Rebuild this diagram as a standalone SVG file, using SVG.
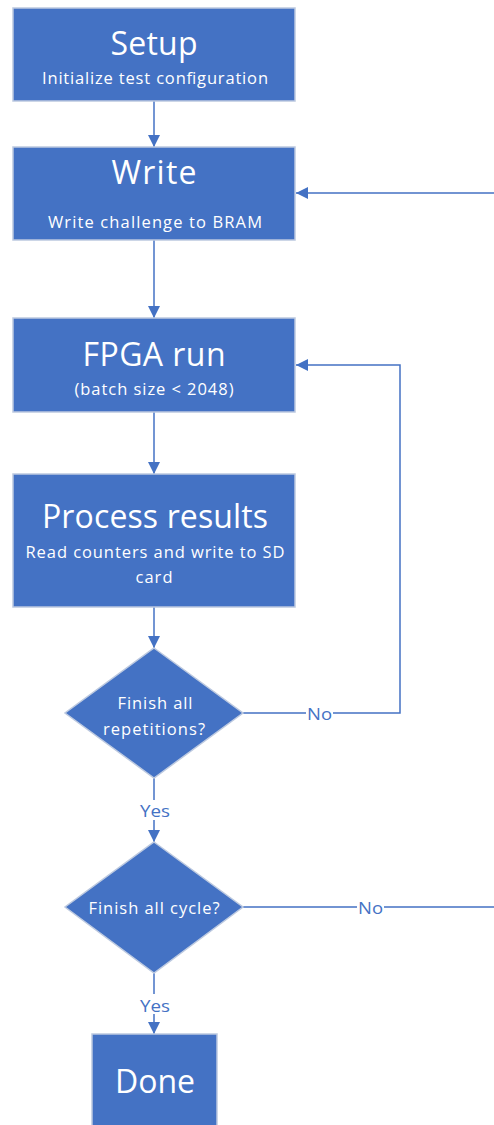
<svg xmlns="http://www.w3.org/2000/svg" width="494" height="1125" viewBox="0 0 494 1125">
  <style>
    .box { fill: #4472C4; stroke: #BCC9E0; stroke-width: 1.5; }
    .title { font-family: "Open Sans", "Noto Sans", sans-serif; fill: #ffffff; text-anchor: middle; dominant-baseline: central; }
    .big { font-size: 32px; }
    .small { font-size: 16.5px; }
    .wire { fill: none; stroke: #4472C4; stroke-width: 1.5; }
    .lbl { font-family: "Open Sans", "Noto Sans", sans-serif; font-size: 16.5px; fill: #4472C4; text-anchor: middle; dominant-baseline: central; }
  </style>
  <defs>
    <marker id="arrow" viewBox="0 0 12 12" refX="12" refY="6" markerWidth="12" markerHeight="12" markerUnits="userSpaceOnUse" orient="auto">
      <path d="M0,0 L12,6 L0,12 Z" fill="#4472C4"/>
    </marker>
  </defs>
  <rect width="494" height="1125" fill="#ffffff"/>

  <g id="connectors">
    <line class="wire" x1="154" y1="101" x2="154" y2="147" marker-end="url(#arrow)"/>
    <line class="wire" x1="154" y1="240" x2="154" y2="318" marker-end="url(#arrow)"/>
    <line class="wire" x1="154" y1="412" x2="154" y2="474" marker-end="url(#arrow)"/>
    <line class="wire" x1="154" y1="607" x2="154" y2="648" marker-end="url(#arrow)"/>
    <!-- repetitions: no -> back to FPGA run -->
    <polyline class="wire" points="243,713 400,713 400,365 296,365" marker-end="url(#arrow)"/>
    <rect x="306" y="704" width="27" height="18" fill="#ffffff"/>
    <text class="lbl" x="319.5" y="713" textLength="25" lengthAdjust="spacingAndGlyphs">No</text>
    <!-- repetitions: yes -->
    <line class="wire" x1="154" y1="778" x2="154" y2="842" marker-end="url(#arrow)"/>
    <rect x="138" y="800" width="32" height="20" fill="#ffffff"/>
    <text class="lbl" x="155" y="810" textLength="30" lengthAdjust="spacingAndGlyphs">Yes</text>
    <!-- cycle: no -> back to Write (routed past the right edge) -->
    <polyline class="wire" points="243,907 498,907 498,193 296,193" marker-end="url(#arrow)"/>
    <rect x="357" y="898" width="27" height="18" fill="#ffffff"/>
    <text class="lbl" x="370.5" y="907" textLength="25" lengthAdjust="spacingAndGlyphs">No</text>
    <!-- cycle: yes -->
    <line class="wire" x1="154" y1="973" x2="154" y2="1034" marker-end="url(#arrow)"/>
    <rect x="138" y="994" width="32" height="20" fill="#ffffff"/>
    <text class="lbl" x="155" y="1005" textLength="30" lengthAdjust="spacingAndGlyphs">Yes</text>
  </g>

  <g id="setup">
    <rect class="box" x="13" y="8" width="282" height="93"/>
    <text class="title big" x="154" y="42" textLength="87">Setup</text>
    <text class="title small" x="155" y="77" textLength="226">Initialize test configuration</text>
  </g>

  <g id="write">
    <rect class="box" x="13" y="147" width="282" height="93"/>
    <text class="title big" x="154" y="171" textLength="85">Write</text>
    <text class="title small" x="155" y="221" textLength="214">Write challenge to BRAM</text>
  </g>

  <g id="fpga-run">
    <rect class="box" x="13" y="318" width="282" height="94"/>
    <text class="title big" x="154" y="353" textLength="143">FPGA run</text>
    <text class="title small" x="154" y="388" textLength="159">(batch size &lt; 2048)</text>
  </g>

  <g id="process-results">
    <rect class="box" x="13" y="474" width="282" height="133"/>
    <text class="title big" x="155" y="515" textLength="226">Process results</text>
    <text class="title small" x="155" y="551" textLength="259">Read counters and write to SD</text>
    <text class="title small" x="154" y="576" textLength="37">card</text>
  </g>

  <g id="finish-repetitions">
    <polygon class="box" points="154,648 243,713 154,778 65,713"/>
    <text class="title small" x="155" y="702" textLength="75">Finish all</text>
    <text class="title small" x="154" y="728" textLength="102">repetitions?</text>
  </g>

  <g id="finish-cycle">
    <polygon class="box" points="154,842 243,907 154,973 65,907"/>
    <text class="title small" x="154" y="907" textLength="131">Finish all cycle?</text>
  </g>

  <g id="done">
    <rect class="box" x="92" y="1034" width="125" height="100"/>
    <text class="title big" x="155" y="1080" textLength="80">Done</text>
  </g>
</svg>
